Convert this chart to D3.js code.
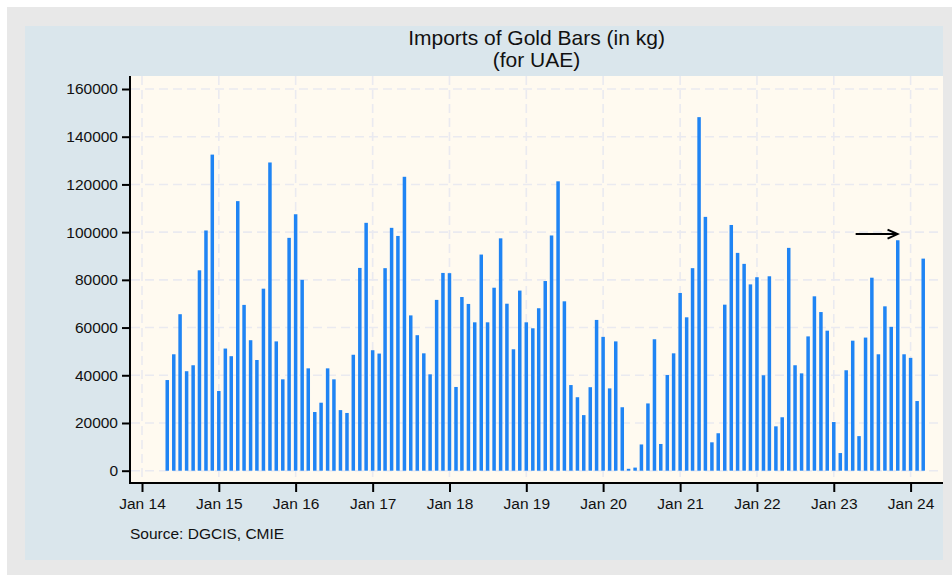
<!DOCTYPE html>
<html>
<head>
<meta charset="utf-8">
<script src="https://cdn.jsdelivr.net/npm/d3@7"></script>
<style>
  html, body { margin: 0; padding: 0; background: #ffffff; }
  svg { display: block; font-family: "Liberation Sans", Arial, sans-serif; }
</style>
</head>
<body>
<svg id="chart" width="952" height="575"></svg>
<script>
// ---- Data (kg), monthly, May 2014 .. Mar 2024 ----
const startMonth = "2014-05";
const values2014 = [38000, 48800, 65600, 41700, 44200, 84000, 100700, 132500];
const values2015 = [33400, 51200, 48000, 113000, 69500, 54700, 46400, 76300, 129200, 54200, 38300, 97600];
const values2016 = [107500, 80000, 42900, 24600, 28500, 42900, 38300, 25400, 24200, 48600, 85000, 103900];
const values2017 = [50500, 49100, 84900, 101800, 98400, 123200, 65100, 56800, 49200, 40400, 71600, 82900];
const values2018 = [82800, 35100, 72800, 69900, 62200, 90600, 62200, 76700, 97400, 70000, 50900, 75500];
const values2019 = [62200, 59700, 68100, 79500, 98600, 121300, 71000, 35900, 30800, 23300, 35000, 63200];
const values2020 = [56100, 34500, 54200, 26600, 800, 1300, 11000, 28200, 55100, 11200, 40100, 49200];
const values2021 = [74500, 64300, 84900, 148200, 106400, 11900, 15700, 69600, 103000, 91300, 86700, 78100];
const values2022 = [81100, 40000, 81500, 18600, 22400, 93400, 44200, 40800, 56300, 73100, 66500, 58700];
const values2023 = [20400, 7400, 42100, 54500, 14500, 55800, 80900, 48800, 68900, 60300, 96600, 48800];
const values2024 = [47300, 29200, 88900];

const yTicks = [0, 20000, 40000, 60000, 80000, 100000, 120000, 140000, 160000];
const xTickYears = [2014, 2015, 2016, 2017, 2018, 2019, 2020, 2021, 2022, 2023, 2024];
const xTickLabels = ["Jan 14", "Jan 15", "Jan 16", "Jan 17", "Jan 18", "Jan 19", "Jan 20", "Jan 21", "Jan 22", "Jan 23", "Jan 24"];
const titleLines = ["Imports of Gold Bars (in kg)", "(for UAE)"];
const sourceNote = "Source: DGCIS, CMIE";
// annotation arrow (data coordinates)
const arrowFrom = { date: "2023-04-15", value: 99200 };
const arrowTo = { date: "2023-10-31", value: 99200 };

// ---- Build series ----
const allValues = [].concat(values2014, values2015, values2016, values2017, values2018,
  values2019, values2020, values2021, values2022, values2023, values2024);
const parseMonth = d3.timeParse("%Y-%m");
const parseDay = d3.timeParse("%Y-%m-%d");
const t0 = parseMonth(startMonth);
const data = allValues.map((v, i) => ({ date: d3.timeMonth.offset(t0, i), value: v }));

// ---- Layout ----
const W = 952, H = 575;
const plot = { left: 130, right: 943, top: 76, bottom: 483 };

const svg = d3.select("#chart");

// backgrounds
svg.append("rect").attr("x", 7).attr("y", 7).attr("width", W - 7).attr("height", H - 7).attr("fill", "#e8e8e8");
svg.append("rect").attr("x", 25).attr("y", 26).attr("width", 918).attr("height", 534).attr("fill", "#dae6ec");
svg.append("rect").attr("x", plot.left).attr("y", plot.top)
  .attr("width", plot.right - plot.left).attr("height", plot.bottom - plot.top).attr("fill", "#fffaf0");

// scales
const x = d3.scaleTime()
  .domain([parseDay("2013-11-05"), parseDay("2024-06-03")])
  .range([plot.left, plot.right]);
const y = d3.scaleLinear().domain([0, 160000]).range([470.7, 89]);

const xTickDates = xTickYears.map(yr => new Date(yr, 0, 1));

// grid
const grid = svg.append("g").attr("stroke", "#eaeaf0").attr("stroke-width", 1.6).attr("stroke-dasharray", "9,5");
grid.selectAll("line.h").data(yTicks).join("line")
  .attr("x1", plot.left + 1).attr("x2", plot.right)
  .attr("y1", d => y(d)).attr("y2", d => y(d));
grid.selectAll("line.v").data(xTickDates).join("line")
  .attr("y1", plot.top).attr("y2", plot.bottom)
  .attr("x1", d => x(d)).attr("x2", d => x(d));

// bars
const barW = 3.5;
svg.append("g").selectAll("rect").data(data).join("rect")
  .attr("x", d => x(d.date) - barW / 2)
  .attr("width", barW)
  .attr("y", d => y(d.value))
  .attr("height", d => Math.max(1.5, y(0) - y(d.value)))
  .attr("fill", "#1f84f4");

// axes
const yAxis = d3.axisLeft(y).tickValues(yTicks).tickSize(8).tickPadding(4).tickFormat(d3.format("d"));
const yG = svg.append("g").attr("transform", `translate(${plot.left},0)`).call(yAxis);
yG.select(".domain").remove();
svg.append("line").attr("x1", plot.left).attr("x2", plot.left)
  .attr("y1", plot.top).attr("y2", plot.bottom + 1).attr("stroke", "#000").attr("stroke-width", 2);

const xAxis = d3.axisBottom(x).tickValues(xTickDates).tickSize(9).tickPadding(6)
  .tickFormat((d, i) => xTickLabels[i]);
const xG = svg.append("g").attr("transform", `translate(0,${plot.bottom})`).call(xAxis);
xG.select(".domain").remove();
svg.append("line").attr("x1", plot.left - 1).attr("x2", plot.right)
  .attr("y1", plot.bottom).attr("y2", plot.bottom).attr("stroke", "#000").attr("stroke-width", 2);

[yG, xG].forEach(g => {
  g.selectAll(".tick line").attr("stroke", "#000").attr("stroke-width", 2);
  g.selectAll(".tick text").attr("fill", "#111").style("font-size", "15.5px")
    .style("font-family", '"Liberation Sans", Arial, sans-serif');
});

// title
svg.append("g").selectAll("text").data(titleLines).join("text")
  .attr("x", (plot.left + plot.right) / 2)
  .attr("y", (d, i) => 45 + i * 22)
  .attr("text-anchor", "middle")
  .attr("fill", "#111")
  .style("font-size", "21px")
  .text(d => d);

// source note
svg.append("text").attr("x", 130).attr("y", 539).attr("fill", "#111")
  .style("font-size", "15.5px").text(sourceNote);

// arrow
const ax1 = x(parseDay(arrowFrom.date)), ay1 = y(arrowFrom.value);
const ax2 = x(parseDay(arrowTo.date)), ay2 = y(arrowTo.value);
svg.append("line").attr("x1", ax1).attr("y1", ay1).attr("x2", ax2 - 1).attr("y2", ay2)
  .attr("stroke", "#000").attr("stroke-width", 2);
svg.append("path")
  .attr("d", `M${ax2 - 10},${ay2 - 4.5} L${ax2},${ay2} L${ax2 - 10},${ay2 + 4.5}`)
  .attr("fill", "none").attr("stroke", "#000").attr("stroke-width", 2);
</script>
</body>
</html>
